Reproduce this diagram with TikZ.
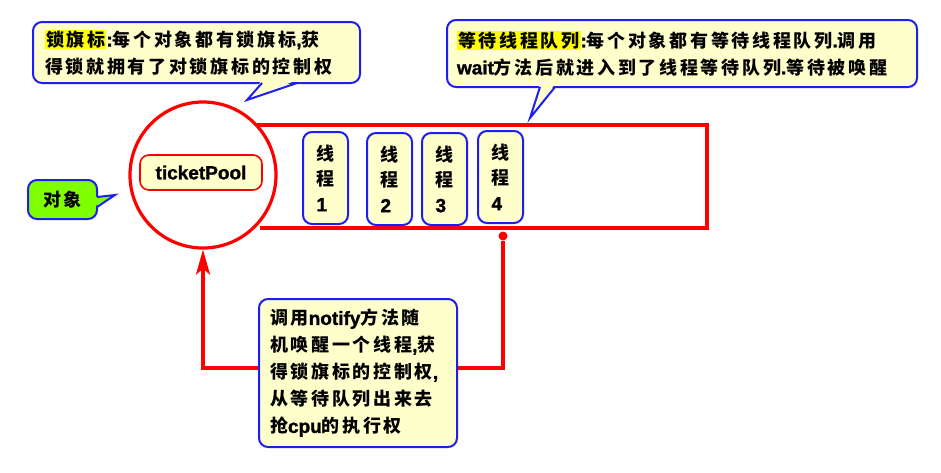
\documentclass[tikz,border=0pt]{standalone}
\usepackage{fontspec}
\setmainfont{Liberation Sans}
\newfontfamily\cjk[LetterSpace=15]{Noto Sans CJK SC}
\newfontfamily\lat[FakeBold=1.5]{Liberation Sans Bold}
\usetikzlibrary{arrows.meta,positioning}
\definecolor{noteblue}{RGB}{30,30,240}
\definecolor{noteyellow}{RGB}{255,255,204}
\definecolor{hlyellow}{RGB}{255,255,0}
\definecolor{objgreen}{RGB}{128,255,0}
\newcommand{\eng}[1]{{\lat\fontsize{19}{27}\selectfont #1}}
\newcommand{\hl}[1]{{\setlength{\fboxsep}{1pt}\colorbox{hlyellow}{#1}}}
\tikzset{
  every node/.style={font=\fontsize{18}{27}\selectfont\bfseries\cjk},
  note/.style={draw=noteblue,fill=noteyellow,line width=2pt,rounded corners=9pt,align=left,inner sep=0pt},
  tail/.style={draw=noteblue,line width=2pt,line join=miter},
  thread/.style={note,minimum width=45pt,minimum height=92pt,font=\fontsize{18}{25.5}\selectfont\bfseries\cjk},
  redline/.style={draw=red,line width=3.2pt},
}

\begin{document}
\begin{tikzpicture}[x=1pt,y=-1pt]
\useasboundingbox (0,0) rectangle (941,472);
% the object and its waiting queue
\draw[redline] (257,125) -- (707,125) -- (707,228) -- (260,228);
\node[circle,draw=red,line width=3.2pt,fill=white,minimum size=146pt] (obj) at (203,175) {};
\node[draw=red,fill=noteyellow,line width=1.6pt,rounded corners=9pt,minimum width=122pt,minimum height=35pt] (pool) at (201,172.5) {\eng{ticketPool}};
\foreach \n/\x/\y in {1/325.5/178,2/389.5/179,3/444.5/179,4/500.5/177}
  \node[thread] (t\n) at (\x,\y) {线\\程\\\eng{\n}};
\node[circle,fill=red,inner sep=0pt,minimum size=9pt] (dot) at (503,236) {};

% notify
\node[note,text width=176pt,minimum width=198pt,minimum height=148pt] (notify) at (358,373)
  {调用\eng{notify}方法随\\机唤醒一个线程\eng{,}获\\得锁旗标的控制权\eng{,}\\从等待队列出来去\\抢\eng{cpu}的执行权};
\draw[redline,-{Stealth[length=25pt,width=14pt,inset=6pt]}] ([yshift=5pt]notify.west) -| (obj.south);
\draw[redline] (dot) |- ([yshift=5pt]notify.east);

% callouts
\node[note,text width=303pt,minimum width=327pt,minimum height=61pt] (lock) at (196.5,52.5)
  {\hl{锁旗标}\eng{:}每个对象都有锁旗标\eng{,}获\\得锁就拥有了对锁旗标的控制权};
\fill[noteyellow] (262,80) -- (247,100) -- (297,80) -- cycle;
\draw[tail] (262,83) -- (247,100) -- (297,83);

\node[note,text width=450pt,minimum width=470pt,minimum height=67pt] (queue) at (682,53.5)
  {\hl{等待线程队列}\eng{:}每个对象都有等待线程队列\eng{.}调用\\\eng{wait}方法后就进入到了线程等待队列\eng{.}等待被唤醒};
\fill[noteyellow] (540,84) -- (530,118) -- (555,84) -- cycle;
\draw[tail] (540,87) -- (530,118) -- (555,87);

\node[note,fill=objgreen,minimum width=69pt,minimum height=39pt] (objnote) at (62.5,199.5) {对\hspace{3pt}象};
\fill[objgreen] (94,197) -- (115,195) -- (94,207) -- cycle;
\draw[tail] (97,197) -- (115,195) -- (97,207);
\end{tikzpicture}
\end{document}
